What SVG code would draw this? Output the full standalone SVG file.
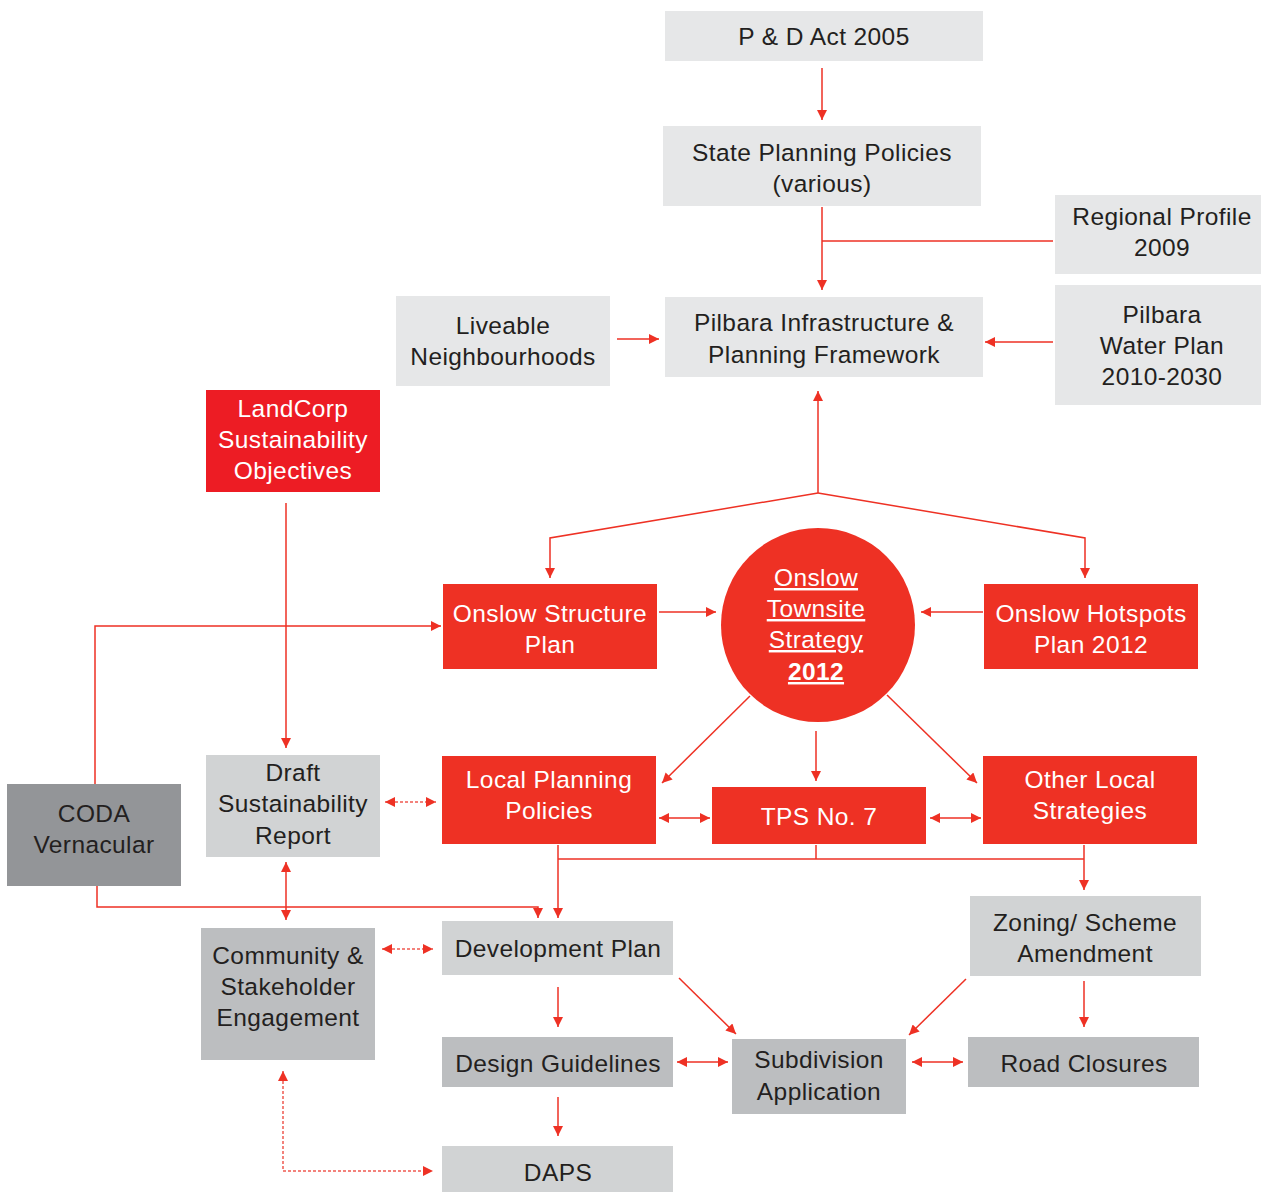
<svg xmlns="http://www.w3.org/2000/svg" width="1262" height="1192" viewBox="0 0 1262 1192">
<defs>
<marker id="ah" markerWidth="10" markerHeight="10" refX="10" refY="5" orient="auto-start-reverse" markerUnits="userSpaceOnUse">
<path d="M0,0 L10,5 L0,10 z" fill="#ee3124"/>
</marker>
<style>
.t{font-family:"Liberation Sans",Arial,sans-serif;font-size:24.5px;letter-spacing:0.4px;text-anchor:middle;fill:#231f20}
.w{fill:#ffffff}
.l1{fill:#e6e7e8}
.l2{fill:#d1d3d4}
.l3{fill:#bcbec0}
.dk{fill:#939598}
.rd{fill:#ee3124}
.c{fill:none;stroke:#ee3124;stroke-width:1.5}
.a{marker-end:url(#ah)}
.b{marker-start:url(#ah);marker-end:url(#ah)}
.d{stroke-dasharray:3 2;stroke:#f05a50}
.u{text-decoration:underline}
</style>
</defs>
<rect width="1262" height="1192" fill="#ffffff"/>

<g id="connectors">
<line class="c a" x1="822" y1="68" x2="822" y2="120"/>
<line class="c a" x1="822" y1="207" x2="822" y2="290"/>
<line class="c" x1="1053" y1="241" x2="822" y2="241"/>
<line class="c a" x1="617" y1="339" x2="659" y2="339"/>
<line class="c a" x1="1053" y1="342" x2="985" y2="342"/>
<line class="c a" x1="818" y1="493" x2="818" y2="391"/>
<polyline class="c a" points="818,493 550,538 550,578"/>
<polyline class="c a" points="818,493 1085,538 1085,578"/>
<line class="c a" x1="659" y1="612" x2="716" y2="612"/>
<line class="c a" x1="983" y1="612" x2="921" y2="612"/>
<line class="c a" x1="286" y1="503" x2="286" y2="748"/>
<polyline class="c a" points="95,784 95,626 441,626"/>
<line class="c a" x1="750" y1="696" x2="662" y2="783"/>
<line class="c a" x1="816" y1="731" x2="816" y2="781"/>
<line class="c a" x1="887" y1="695" x2="977" y2="783"/>
<line class="c b" x1="659" y1="818" x2="710" y2="818"/>
<line class="c b" x1="930" y1="818" x2="981" y2="818"/>
<line class="c b d" x1="385" y1="802" x2="436" y2="802"/>
<line class="c b" x1="286" y1="862" x2="286" y2="920"/>
<polyline class="c a" points="97,886 97,907 538,907 538,918"/>
<line class="c a" x1="558" y1="845" x2="558" y2="918"/>
<line class="c" x1="558" y1="859" x2="1084" y2="859"/>
<line class="c" x1="816" y1="845" x2="816" y2="859"/>
<line class="c a" x1="1084" y1="845" x2="1084" y2="890"/>
<line class="c b d" x1="382" y1="949" x2="433" y2="949"/>
<line class="c a" x1="558" y1="987" x2="558" y2="1027"/>
<line class="c a" x1="679" y1="978" x2="736" y2="1034"/>
<line class="c a" x1="966" y1="979" x2="909" y2="1035"/>
<line class="c a" x1="1084" y1="981" x2="1084" y2="1027"/>
<line class="c b" x1="677" y1="1062" x2="728" y2="1062"/>
<line class="c b" x1="912" y1="1062" x2="963" y2="1062"/>
<line class="c a" x1="558" y1="1097" x2="558" y2="1136"/>
<polyline class="c b d" points="283,1071 283,1171 433,1171"/>
</g>

<g id="pd-act">
<rect class="l1" x="665" y="11" width="318" height="50"/>
<text class="t" x="824" y="45">P &amp; D Act 2005</text>
</g>
<g id="state-planning-policies">
<rect class="l1" x="663" y="126" width="318" height="80"/>
<text class="t" x="822" y="161">State Planning Policies</text>
<text class="t" x="822" y="192">(various)</text>
</g>
<g id="regional-profile">
<rect class="l1" x="1055" y="195" width="206" height="79"/>
<text class="t" x="1162" y="225">Regional Profile</text>
<text class="t" x="1162" y="256">2009</text>
</g>
<g id="pilbara-framework">
<rect class="l1" x="665" y="297" width="318" height="80"/>
<text class="t" x="824" y="331">Pilbara Infrastructure &amp;</text>
<text class="t" x="824" y="363">Planning Framework</text>
</g>
<g id="liveable-neighbourhoods">
<rect class="l1" x="396" y="296" width="214" height="90"/>
<text class="t" x="503" y="334">Liveable</text>
<text class="t" x="503" y="365">Neighbourhoods</text>
</g>
<g id="pilbara-water-plan">
<rect class="l1" x="1055" y="285" width="206" height="120"/>
<text class="t" x="1162" y="323">Pilbara</text>
<text class="t" x="1162" y="354">Water Plan</text>
<text class="t" x="1162" y="385">2010-2030</text>
</g>
<g id="landcorp">
<rect x="206" y="390" width="174" height="102" fill="#ed1c24"/>
<text class="t w" x="293" y="417">LandCorp</text>
<text class="t w" x="293" y="448">Sustainability</text>
<text class="t w" x="293" y="479">Objectives</text>
</g>
<g id="onslow-structure-plan">
<rect class="rd" x="443" y="584" width="214" height="85"/>
<text class="t w" x="550" y="622">Onslow Structure</text>
<text class="t w" x="550" y="653">Plan</text>
</g>
<g id="onslow-townsite-strategy">
<circle class="rd" cx="818" cy="625" r="97"/>
<text class="t w u" x="816" y="586">Onslow</text>
<text class="t w u" x="816" y="617">Townsite</text>
<text class="t w u" x="816" y="648">Strategy</text>
<text class="t w u" x="816" y="680" font-weight="bold">2012</text>
</g>
<g id="onslow-hotspots">
<rect class="rd" x="984" y="584" width="214" height="85"/>
<text class="t w" x="1091" y="622">Onslow Hotspots</text>
<text class="t w" x="1091" y="653">Plan 2012</text>
</g>
<g id="draft-sustainability-report">
<rect class="l2" x="206" y="755" width="174" height="102"/>
<text class="t" x="293" y="781">Draft</text>
<text class="t" x="293" y="812">Sustainability</text>
<text class="t" x="293" y="844">Report</text>
</g>
<g id="coda-vernacular">
<rect class="dk" x="7" y="784" width="174" height="102"/>
<text class="t" x="94" y="822">CODA</text>
<text class="t" x="94" y="853">Vernacular</text>
</g>
<g id="local-planning-policies">
<rect class="rd" x="442" y="756" width="214" height="88"/>
<text class="t w" x="549" y="788">Local Planning</text>
<text class="t w" x="549" y="819">Policies</text>
</g>
<g id="tps7">
<rect class="rd" x="712" y="787" width="214" height="57"/>
<text class="t w" x="819" y="825">TPS No. 7</text>
</g>
<g id="other-local-strategies">
<rect class="rd" x="983" y="756" width="214" height="88"/>
<text class="t w" x="1090" y="788">Other Local</text>
<text class="t w" x="1090" y="819">Strategies</text>
</g>
<g id="zoning-amendment">
<rect class="l2" x="970" y="896" width="231" height="80"/>
<text class="t" x="1085" y="931">Zoning/ Scheme</text>
<text class="t" x="1085" y="962">Amendment</text>
</g>
<g id="community-engagement">
<rect class="l3" x="201" y="928" width="174" height="132"/>
<text class="t" x="288" y="964">Community &amp;</text>
<text class="t" x="288" y="995">Stakeholder</text>
<text class="t" x="288" y="1026">Engagement</text>
</g>
<g id="development-plan">
<rect class="l2" x="442" y="921" width="231" height="54"/>
<text class="t" x="558" y="957">Development Plan</text>
</g>
<g id="design-guidelines">
<rect class="l3" x="442" y="1037" width="231" height="50"/>
<text class="t" x="558" y="1072">Design Guidelines</text>
</g>
<g id="subdivision-application">
<rect class="l3" x="732" y="1039" width="174" height="75"/>
<text class="t" x="819" y="1068">Subdivision</text>
<text class="t" x="819" y="1100">Application</text>
</g>
<g id="road-closures">
<rect class="l3" x="968" y="1037" width="231" height="50"/>
<text class="t" x="1084" y="1072">Road Closures</text>
</g>
<g id="daps">
<rect class="l2" x="442" y="1146" width="231" height="46"/>
<text class="t" x="558" y="1181">DAPS</text>
</g>
</svg>
